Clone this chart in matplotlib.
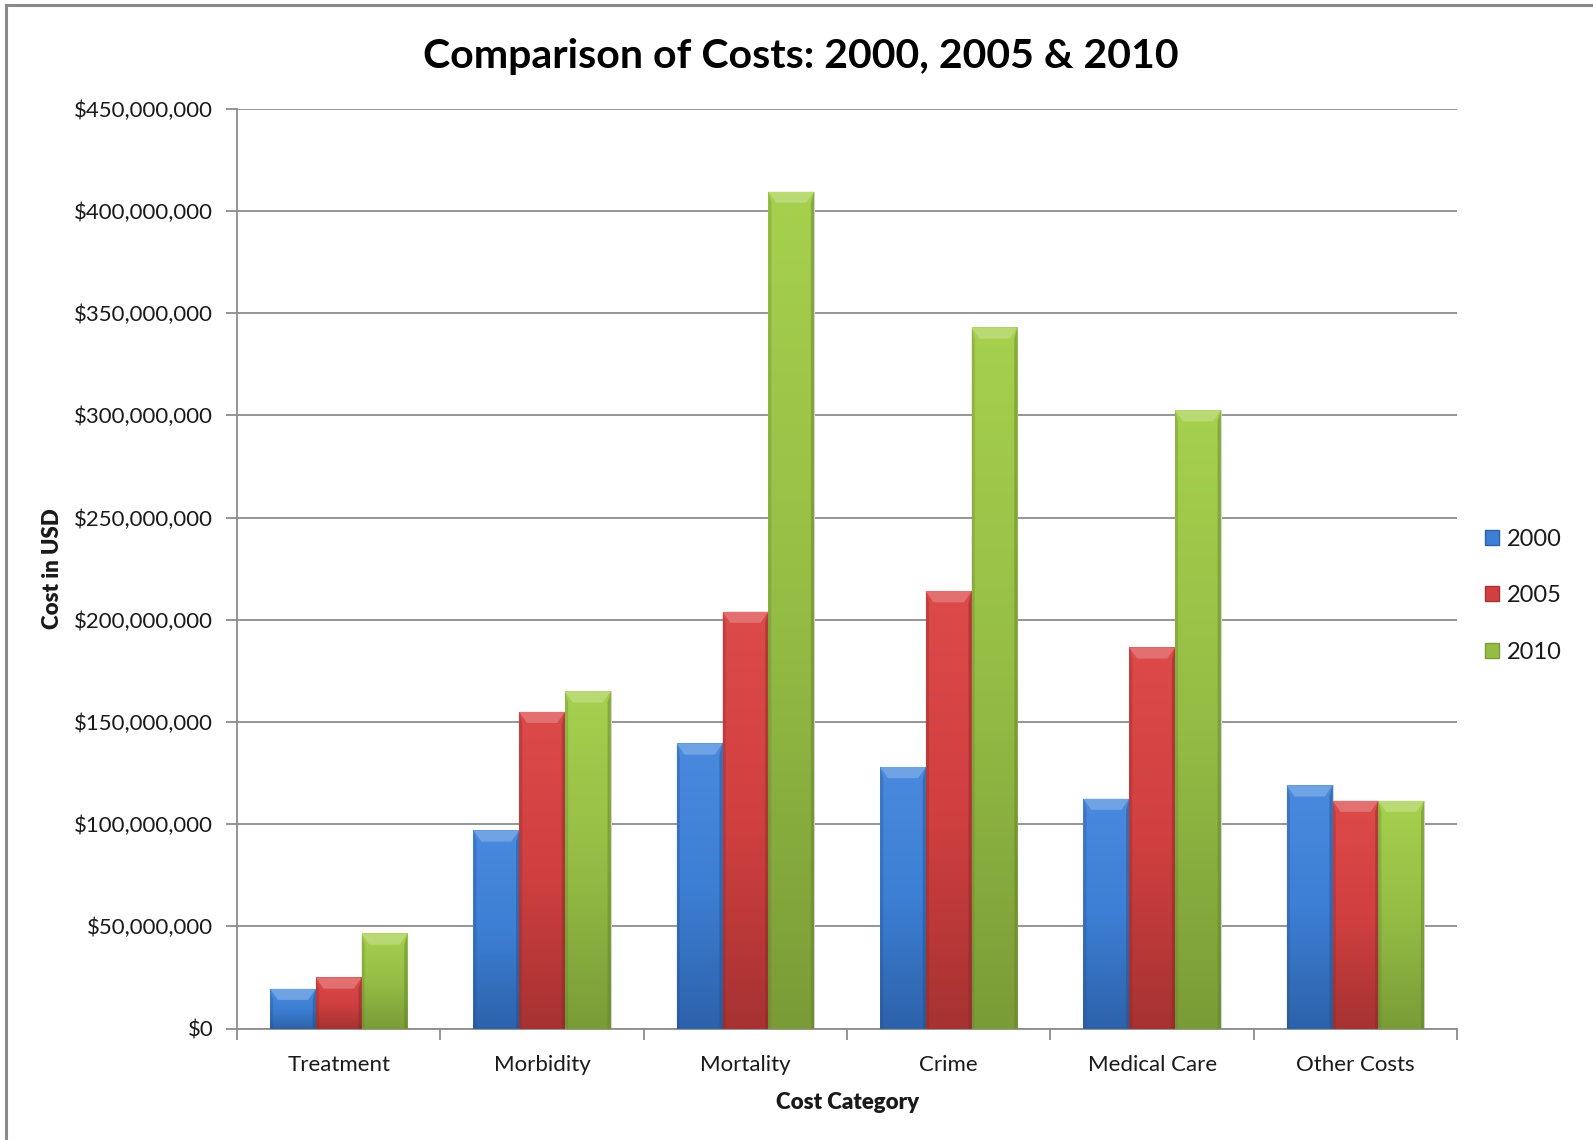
"""
Comparison of costs by category for 2000, 2005 and 2010 (Excel-style grouped bars).
"""

import numpy as np
import matplotlib
matplotlib.use('Agg')
import matplotlib.pyplot as plt
from matplotlib.ticker import FuncFormatter, FixedLocator
from matplotlib.patches import Patch, Polygon
from matplotlib.lines import Line2D
from matplotlib.colors import LinearSegmentedColormap, to_rgb

# Data
categories = ['Treatment', 'Morbidity', 'Mortality', 'Crime', 'Medical Care', 'Other Costs']
years = ['2000', '2005', '2010']
cost_2000 = [19.5e6, 97e6, 139.5e6, 128e6, 112.5e6, 119e6]
cost_2005 = [25e6, 155e6, 204e6, 214e6, 186.5e6, 111.5e6]
cost_2010 = [46.5e6, 165e6, 409.5e6, 343e6, 302.5e6, 111.5e6]
series = [cost_2000, cost_2005, cost_2010]
y_ticks = np.arange(0, 450e6 + 1, 50e6)

# Colours: (light top, base, dark bottom)
palette = {
    '2000': ('#4a8ade', '#3d7fd4', '#2d62aa'),
    '2005': ('#dc4a4a', '#d14040', '#a63232'),
    '2010': ('#a6d04e', '#95bd45', '#7a9c37'),
}

plt.rcParams['font.family'] = ['Lato', 'DejaVu Sans']
TEXT = '#1a1a1a'
GRID = '#8c8c8c'


def shade_bar(ax, rect, colors):
    """Fake the Excel bevel: vertical gradient plus lighter top face and darker sides"""
    x0, y0 = rect.get_x(), rect.get_y()
    w, h = rect.get_width(), rect.get_height()
    light, base, dark = colors
    cmap = LinearSegmentedColormap.from_list('g', [dark, base, light])
    grad = np.linspace(0, 1, 256).reshape(-1, 1)
    im = ax.imshow(grad, cmap=cmap, origin='lower', aspect='auto',
                   extent=(x0, x0 + w, y0, y0 + h), zorder=3, interpolation='bicubic')
    im.set_clip_path(rect)

    # bevel sizes in data units
    bw = w * 0.17
    bh = min(5.5e6, h * 0.4)
    top = y0 + h
    hl = np.array(to_rgb(light)) * 0.6 + 0.4
    face_top = Polygon([(x0, top), (x0 + w, top), (x0 + w - bw, top - bh), (x0 + bw, top - bh)],
                       closed=True, facecolor=hl, edgecolor='none', alpha=0.55, zorder=4)
    ax.add_patch(face_top)
    sd = np.array(to_rgb(dark)) * 0.8
    sw = bw * 0.4
    left_side = Polygon([(x0, top), (x0 + sw, top - bh), (x0 + sw, y0), (x0, y0)],
                        closed=True, facecolor=sd, edgecolor='none', alpha=0.3, zorder=4)
    right_side = Polygon([(x0 + w, top), (x0 + w - sw, top - bh), (x0 + w - sw, y0), (x0 + w, y0)],
                         closed=True, facecolor=sd, edgecolor='none', alpha=0.45, zorder=4)
    ax.add_patch(left_side)
    ax.add_patch(right_side)
    rect.set_edgecolor('#d4d4d4')
    rect.set_linewidth(0.8)


def main():
    fig = plt.figure(figsize=(15.93, 11.4), dpi=100)
    ax = fig.add_axes([0.1488, 0.0978, 0.7659, 0.8068])

    x = np.arange(len(categories))
    width = 0.225
    offsets = [-width, 0, width]

    for yr, vals, off in zip(years, series, offsets):
        bars = ax.bar(x + off, vals, width, color=palette[yr][1], zorder=2)
        for rect in bars:
            shade_bar(ax, rect, palette[yr])

    ax.set_xlim(-0.5, len(categories) - 0.5)
    ax.set_ylim(0, 450e6)
    ax.set_yticks(y_ticks)
    ax.yaxis.set_major_formatter(FuncFormatter(lambda v, p: f"${v:,.0f}"))
    ax.grid(axis='y', color=GRID, linewidth=1.3, zorder=0)
    ax.set_axisbelow(True)

    ax.set_xticks(x)
    ax.set_xticklabels(categories)
    ax.xaxis.set_minor_locator(FixedLocator(np.arange(-0.5, len(categories), 1.0)))
    ax.tick_params(axis='x', which='major', length=0, pad=19, labelsize=16, labelcolor=TEXT)
    ax.tick_params(axis='x', which='minor', length=8, color=GRID, width=1.3)
    ax.tick_params(axis='y', length=8, color=GRID, width=1.3, pad=9, labelsize=16, labelcolor=TEXT)

    for s in ['top', 'right']:
        ax.spines[s].set_visible(False)
    for s in ['left', 'bottom']:
        ax.spines[s].set_color(GRID)
        ax.spines[s].set_linewidth(1.3)

    ax.set_xlabel('Cost Category', fontsize=16, fontweight='heavy', color=TEXT, labelpad=12)
    ax.set_ylabel('Cost in USD', fontsize=16, fontweight='heavy', color=TEXT, labelpad=8)
    fig.suptitle('Comparison of Costs: 2000, 2005 & 2010', fontsize=29.5, fontweight='bold',
                 color='black', x=0.503, y=0.967)

    handles = [Patch(facecolor=palette[yr][1], edgecolor=palette[yr][2], label=yr) for yr in years]
    fig.legend(handles=handles, loc='center left', bbox_to_anchor=(0.919, 0.4775), frameon=False,
               fontsize=17, handlelength=0.6, handleheight=0.6, handletextpad=0.3,
               labelspacing=1.5, labelcolor=TEXT)

    # chart border (left and top edges visible in the reference)
    fig.add_artist(Line2D([0.0038, 0.0038], [0, 0.9956], color='#8a8a8a', linewidth=2.2,
                          transform=fig.transFigure))
    fig.add_artist(Line2D([0.0038, 1.0], [0.9956, 0.9956], color='#8a8a8a', linewidth=2.2,
                          transform=fig.transFigure))

    fig.savefig('out.png', dpi=100, facecolor='white')
    plt.close(fig)


if __name__ == "__main__":
    main()
